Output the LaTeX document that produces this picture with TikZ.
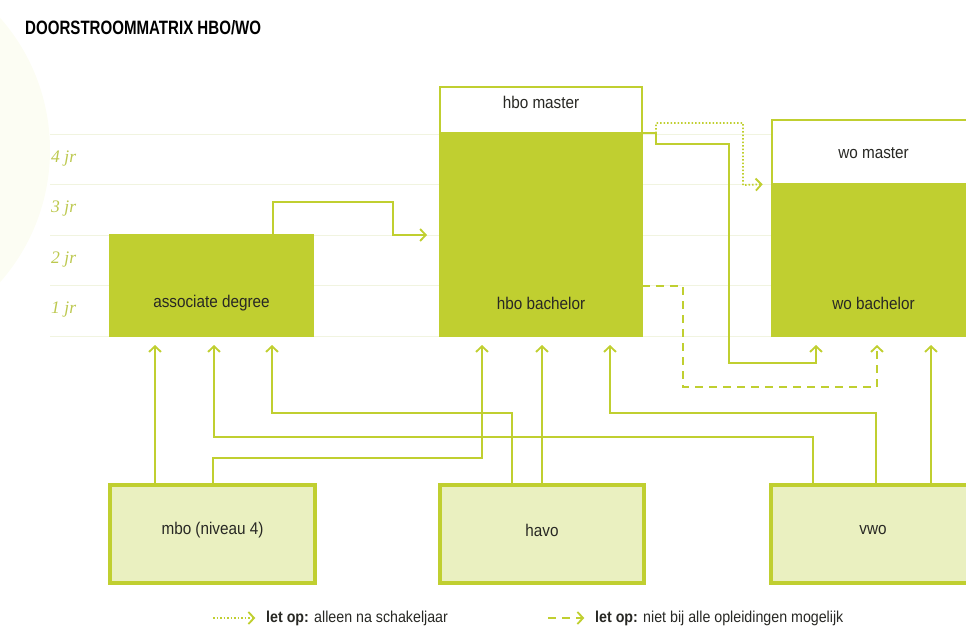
\documentclass[tikz,border=0pt]{standalone}
\usepackage{fontspec}
\setmainfont{Liberation Sans}
\newfontfamily\titlefont[FakeStretch=0.78]{Liberation Sans}
\newfontfamily\boxfont[FakeStretch=0.9]{Liberation Sans}
\newfontfamily\yearfont{Liberation Serif}
\usetikzlibrary{arrows.meta,positioning}

\definecolor{lime}{RGB}{192,207,48}
\definecolor{limelight}{RGB}{234,240,192}
\definecolor{gridline}{RGB}{241,244,224}
\definecolor{yeartext}{RGB}{188,200,78}
\definecolor{boxtext}{RGB}{40,40,36}
\definecolor{backblob}{RGB}{252,253,243}

\def\px{0.3mm}

\tikzset{
    bachelorbox/.style={draw=lime, fill=lime, line width=0.6mm, inner sep=0pt, outer sep=0pt},
    masterbox/.style={draw=lime, fill=white, line width=0.6mm, inner sep=0pt, outer sep=0pt},
    schoolbox/.style={draw=lime, fill=limelight, line width=1mm, inner sep=0pt, outer sep=0pt},
    boxlabel/.style={text=boxtext, font=\fontsize{14.5}{16}\boxfont},
    yearlabel/.style={anchor=west, text=yeartext, inner sep=0pt, font=\fontsize{15}{17}\yearfont\itshape},
    legendtext/.style={anchor=west, inner sep=0pt, text=boxtext, font=\fontsize{13.5}{15}\boxfont},
    flow/.style={draw=lime, line width=0.55mm, -{Straight Barb[length=1.7mm,width=3.6mm]}},
    dotflow/.style={flow, dash pattern=on 0.45mm off 0.6mm},
    dashflow/.style={flow, dash pattern=on 2.4mm off 1.8mm},
    toin/.style={shorten >=2.7mm},
}

\begin{document}
\begin{tikzpicture}[x=0.3mm, y=-0.3mm]
    \useasboundingbox (0,0) rectangle (966,632);
    \clip (0,0) rectangle (966,632);

    % faint backdrop and year rows
    \fill[backblob] (-150,150) circle [radius=60mm];
    \foreach \y in {134,184,235,285,336}
        \draw[gridline, line width=0.3mm] (50,\y) -- (966,\y);

    \node[anchor=west, inner sep=0pt, font=\fontsize{16.5}{18}\titlefont\bfseries] (title) at (25,28) {DOORSTROOMMATRIX HBO/WO};

    \foreach \n/\y in {4/159,3/209,2/260,1/310}
        \node[yearlabel] (yr\n) at (51,\y) {\n\ jr};

    % upper boxes
    \node[bachelorbox, minimum width=203*\px, minimum height=101*\px] (assoc) at (211.5,285.5) {};
    \node[masterbox, minimum width=202*\px, minimum height=46*\px] (hbom) at (541,110) {};
    \node[bachelorbox, minimum width=202*\px, minimum height=203*\px] (hbob) at (541,234.5) {};
    \node[masterbox, minimum width=203*\px, minimum height=64*\px] (wom) at (873.5,152) {};
    \node[bachelorbox, minimum width=203*\px, minimum height=152*\px] (wob) at (873.5,260) {};

    \node[boxlabel] (assoc-l) at (211.5,303) {associate degree};
    \node[boxlabel] (hbom-l) at (541,102) {hbo master};
    \node[boxlabel] (hbob-l) at (541,303) {hbo bachelor};
    \node[boxlabel] (wom-l) at (873.5,153) {wo master};
    \node[boxlabel] (wob-l) at (873.5,303) {wo bachelor};

    % lower boxes
    \node[schoolbox, minimum width=205*\px, minimum height=98*\px] (mbo) at (212.5,534) {};
    \node[schoolbox, minimum width=204*\px, minimum height=98*\px] (havo) at (542,534) {};
    \node[schoolbox, minimum width=204*\px, minimum height=98*\px] (vwo) at (873,534) {};

    \node[boxlabel] (mbo-l) at (212.5,530) {mbo (niveau 4)};
    \node[boxlabel] (havo-l) at (542,530) {havo};
    \node[boxlabel] (vwo-l) at (873,530) {vwo};

    % mbo
    \draw[flow, toin] (155,0 |- mbo.north) -- (155,0 |- assoc.south);
    \draw[flow, toin] (213,0 |- mbo.north) -- (213,458) -- (482,458) -- (482,0 |- hbob.south);
    % havo
    \draw[flow, toin] (512,0 |- havo.north) -- (512,413) -- (272,413) -- (272,0 |- assoc.south);
    \draw[flow, toin] (542,0 |- havo.north) -- (542,0 |- hbob.south);
    % vwo
    \draw[flow, toin] (813,0 |- vwo.north) -- (813,437) -- (214,437) -- (214,0 |- assoc.south);
    \draw[flow, toin] (876,0 |- vwo.north) -- (876,413) -- (610,413) -- (610,0 |- hbob.south);
    \draw[flow, toin] (931,0 |- vwo.north) -- (931,0 |- wob.south);

    % doorstroom
    \draw[flow, shorten >=3.9mm] (273,0 |- assoc.north) -- (273,202) -- (393,202) -- (393,235) -- (hbob.west |- 0,235);
    \draw[flow, toin] (hbob.north east) -- (656,133) -- (656,144) -- (729,144) -- (729,363) -- (816,363) -- (816,0 |- wob.south);
    \draw[dotflow, shorten >=2.8mm] ([xshift=14*\px]hbom.south east) -- (656,123) -- (743,123) -- (743,185) -- (wom.south west);
    \draw[dashflow, toin] (hbob.east |- 0,286) -- (683,286) -- (683,387) -- (877,387) -- (877,0 |- wob.south);

    % legend
    \coordinate (dotstart) at (213,618);
    \coordinate (dashstart) at (548,618);
    \node[legendtext] (dotnote) at (266,618) {\textbf{let op:} alleen na schakeljaar};
    \node[legendtext] (dashnote) at (595,618) {\textbf{let op:} niet bij alle opleidingen mogelijk};
    \draw[dotflow, shorten >=3.2mm] (dotstart) -- (dotnote.west);
    \draw[dashflow, shorten >=3.2mm] (dashstart) -- (dashnote.west);
\end{tikzpicture}
\end{document}
